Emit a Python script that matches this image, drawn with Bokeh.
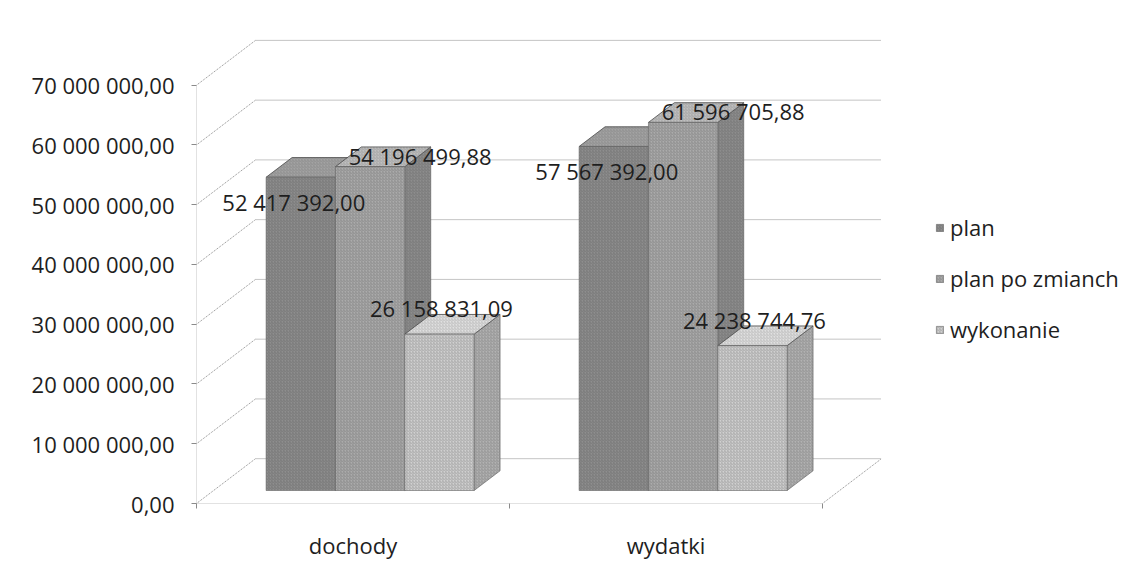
from bokeh.plotting import figure
from bokeh.models import ColumnDataSource, FixedTicker, Legend, LegendItem, Range1d
from bokeh.embed import file_html
from bokeh.resources import INLINE
from bokeh.core.properties import value

# ---------------- data ----------------
categories = ["dochody", "wydatki"]
series_names = ["plan", "plan po zmianch", "wykonanie"]
plan = [52417392.00, 57567392.00]
plan_po_zmianach = [54196499.88, 61596705.88]
wykonanie = [26158831.09, 24238744.76]
y_ticks = [0, 10000000, 20000000, 30000000, 40000000, 50000000, 60000000, 70000000]

series_values = [plan, plan_po_zmianach, wykonanie]


def fmt(v):
    return f"{v:,.2f}".replace(",", " ").replace(".", ",")


# ---------------- geometry / style ----------------
PX_X = 313.0                 # px per category unit
PX_Y = 6.0 / 1e6             # px per value unit
FRAME_W, FRAME_H = 935, 493
X_END = FRAME_W / PX_X
Y_END = FRAME_H / PX_Y
DX = 59 / PX_X               # depth offset of back wall (x, data units)
DY = 45 / PX_Y               # depth offset of back wall (y, data units)
F = 0.29                     # depth fraction of bars' front face
D = 0.44                     # bar depth fraction
N = len(series_names)
BW = 0.2215                  # bar width (category units)
OFF0 = (1 - N * BW) / 2

front_cols = ["#8e8e8e", "#ababab", "#d0d0d0"]
side_cols = ["#6f6f6f", "#8d8d8d", "#b2b2b2"]
top_cols = ["#a3a3a3", "#c0c0c0", "#e0e0e0"]
label_offsets = [(-7, 25), (50, -11), (2, -26)]
FONT = "Open Sans"
FS = "22px"
GRID = "#8a8a8a"

p = figure(width=1131, height=562, output_backend="svg", toolbar_location=None,
           x_range=Range1d(0, X_END), y_range=Range1d(0, Y_END),
           min_border_left=196, min_border_right=0, min_border_top=12,
           min_border_bottom=57)
p.outline_line_color = None
p.xgrid.visible = False
p.ygrid.visible = False
p.background_fill_color = "white"
p.border_fill_color = "white"

# ---------------- walls / floor ----------------
ncat = len(categories)
gx0, gx1, gy = [], [], []
for t in y_ticks:
    gx0.append(DX)
    gx1.append(ncat + DX)
    gy.append(t + DY)
p.segment(x0=gx0, y0=gy, x1=gx1, y1=gy, line_color=GRID, line_width=1, line_dash="1 1")
# side wall diagonals
p.segment(x0=[0] * len(y_ticks), y0=y_ticks, x1=[DX] * len(y_ticks),
          y1=[t + DY for t in y_ticks], line_color=GRID, line_width=1, line_dash="1 1")
# front axis line and floor edges
p.segment(x0=[0, 0, ncat], y0=[0, 0, 0], x1=[0, ncat, ncat + DX], y1=[y_ticks[-1], 0, DY],
          line_color=GRID, line_width=1, line_dash="1 1")

# ---------------- bars (pseudo 3-D) ----------------
front_renderers = []
for i, vals in enumerate(series_values):
    lefts = [c + OFF0 + i * BW + F * DX for c in range(ncat)]
    rights = [l + BW for l in lefts]
    bottoms = [F * DY] * ncat
    tops = [v + F * DY for v in vals]
    ddx, ddy = D * DX, D * DY
    side_xs = [[r, r + ddx, r + ddx, r] for r in rights]
    side_ys = [[b, b + ddy, t + ddy, t] for b, t in zip(bottoms, tops)]
    top_xs = [[l, r, r + ddx, l + ddx] for l, r in zip(lefts, rights)]
    top_ys = [[t, t, t + ddy, t + ddy] for t in tops]
    p.patches(xs=side_xs, ys=side_ys, fill_color=side_cols[i], line_color="#5a5a5a",
              line_width=0.6, hatch_pattern="/", hatch_color="#444444",
              hatch_alpha=0.25, hatch_scale=3, hatch_weight=1)
    p.patches(xs=top_xs, ys=top_ys, fill_color=top_cols[i], line_color="#4a4a4a",
              line_width=0.8, hatch_pattern="/", hatch_color="#444444",
              hatch_alpha=0.2, hatch_scale=3, hatch_weight=1)
    src = ColumnDataSource(dict(left=lefts, right=rights, bottom=bottoms, top=tops))
    r = p.quad(left="left", right="right", bottom="bottom", top="top", source=src,
               fill_color=front_cols[i], line_color="#666666", line_width=0.6,
               hatch_pattern="/", hatch_color="#3c3c3c", hatch_alpha=0.25,
               hatch_scale=3, hatch_weight=1)
    front_renderers.append(r)

# ---------------- value labels ----------------
for i, vals in enumerate(series_values):
    xs = [c + OFF0 + i * BW + F * DX + BW / 2 for c in range(ncat)]
    ys = [v + F * DY for v in vals]
    p.text(x=xs, y=ys, text=[fmt(v) for v in vals], text_font=value(FONT),
           text_font_size=FS, text_color="#1e1e1e", text_align="center",
           text_baseline="middle", x_offset=label_offsets[i][0],
           y_offset=label_offsets[i][1])

# ---------------- axes ----------------
ya = p.yaxis[0]
ya.ticker = FixedTicker(ticks=y_ticks)
ya.major_label_overrides = {t: fmt(t) for t in y_ticks}
ya.axis_line_color = None
ya.major_tick_in = 0
ya.major_tick_out = 5
ya.major_tick_line_color = GRID
ya.minor_tick_line_color = None
ya.major_label_standoff = 17
ya.major_label_text_font = FONT
ya.major_label_text_font_size = FS
ya.major_label_text_color = "#1e1e1e"

xa = p.xaxis[0]
cat_centers = [c + 0.5 for c in range(ncat)]
xa.ticker = FixedTicker(ticks=cat_centers, minor_ticks=list(range(ncat + 1)))
xa.major_label_overrides = {c: n for c, n in zip(cat_centers, categories)}
xa.axis_line_color = None
xa.major_tick_line_color = None
xa.minor_tick_in = 0
xa.minor_tick_out = 5
xa.minor_tick_line_color = GRID
xa.major_label_standoff = 20
xa.major_label_text_font = FONT
xa.major_label_text_font_size = FS
xa.major_label_text_color = "#1e1e1e"

# ---------------- legend ----------------
legend = Legend(items=[LegendItem(label=n, renderers=[r])
                       for n, r in zip(series_names, front_renderers)],
                location=(739, 159), orientation="vertical")
legend.glyph_width = 9
legend.glyph_height = 9
legend.label_height = 24
legend.spacing = 21
legend.padding = 0
legend.margin = 0
legend.label_standoff = 6
legend.border_line_color = None
legend.background_fill_alpha = 0
legend.label_text_font = FONT
legend.label_text_font_size = FS
legend.label_text_color = "#1e1e1e"
p.add_layout(legend)

open("out.html", "w").write(file_html(p, INLINE))
